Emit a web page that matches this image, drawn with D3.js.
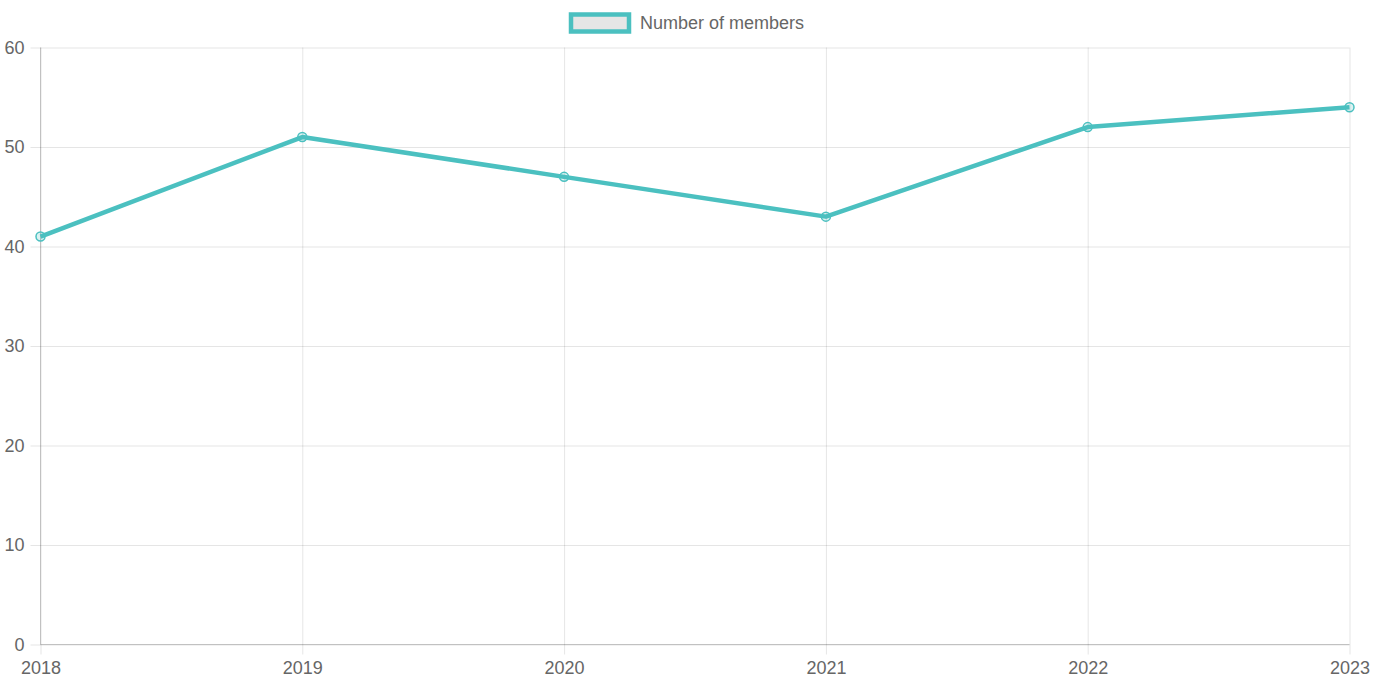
<!DOCTYPE html>
<html><head><meta charset="utf-8">
<script src="https://cdn.jsdelivr.net/npm/d3@7"></script>
<style>body{margin:0;background:#fff;} svg{display:block;}</style>
</head><body>
<svg id="chart" width="1374" height="687"></svg>
<script>
const years = ["2018","2019","2020","2021","2022","2023"];
const members = [41, 51, 47, 43, 52, 54];
const yTicks = [0,10,20,30,40,50,60];
const seriesName = "Number of members";

const W=1374,H=687;
const m={left:40.5,right:24.5,top:47.5,bottom:42.5};
const svg=d3.select("#chart");
const font="'Liberation Sans', Arial, sans-serif";
const x=d3.scalePoint().domain(years).range([m.left,W-m.right]);
const y=d3.scaleLinear().domain([0,60]).range([H-m.bottom,m.top]);
const grid="rgba(0,0,0,0.1)";
const teal="rgb(75,192,192)";

const yAxis=d3.axisLeft(y).tickValues(yTicks).tickSize(10).tickPadding(6);
const gy=svg.append("g").attr("transform",`translate(${m.left},0)`).call(yAxis);
gy.select(".domain").remove();
gy.selectAll(".tick line").attr("stroke",grid);
gy.selectAll(".tick").append("line").attr("x1",0).attr("x2",W-m.right-m.left).attr("stroke",grid);
gy.selectAll("text").attr("fill","#666").style("font-family",font).style("font-size","18px");

const xAxis=d3.axisBottom(x).tickSize(10).tickPadding(7);
const gx=svg.append("g").attr("transform",`translate(0,${H-m.bottom})`).call(xAxis);
gx.select(".domain").remove();
gx.selectAll(".tick line").attr("stroke",grid);
gx.selectAll(".tick").append("line").attr("y1",0).attr("y2",-(H-m.bottom-m.top)).attr("stroke",grid);
gx.selectAll("text").attr("fill","#666").style("font-family",font).style("font-size","18px");

svg.append("line").attr("x1",m.left).attr("x2",m.left).attr("y1",m.top).attr("y2",H-m.bottom).attr("stroke","rgba(0,0,0,0.2)");
svg.append("line").attr("x1",m.left).attr("x2",W-m.right).attr("y1",H-m.bottom).attr("y2",H-m.bottom).attr("stroke","rgba(0,0,0,0.2)");

const line=d3.line().x((d,i)=>x(years[i])).y(d=>y(d));
svg.append("path").datum(members).attr("d",line).attr("fill","none").attr("stroke",teal).attr("stroke-width",4.5).attr("stroke-linejoin","round");
svg.selectAll("circle.pt").data(members).enter().append("circle").attr("class","pt")
  .attr("cx",(d,i)=>x(years[i])).attr("cy",d=>y(d)).attr("r",4.5)
  .attr("fill","rgba(75,192,192,0.2)").attr("stroke",teal).attr("stroke-width",1.5);

const lg=svg.append("g");
lg.append("rect").attr("x",571).attr("y",14.5).attr("width",58).attr("height",17)
  .attr("fill","#e6e6e6").attr("stroke",teal).attr("stroke-width",4.5);
lg.append("text").attr("x",640).attr("y",23).attr("dominant-baseline","central")
  .attr("fill","#666").style("font-family",font).style("font-size","18px").text(seriesName);
</script>
</body></html>
